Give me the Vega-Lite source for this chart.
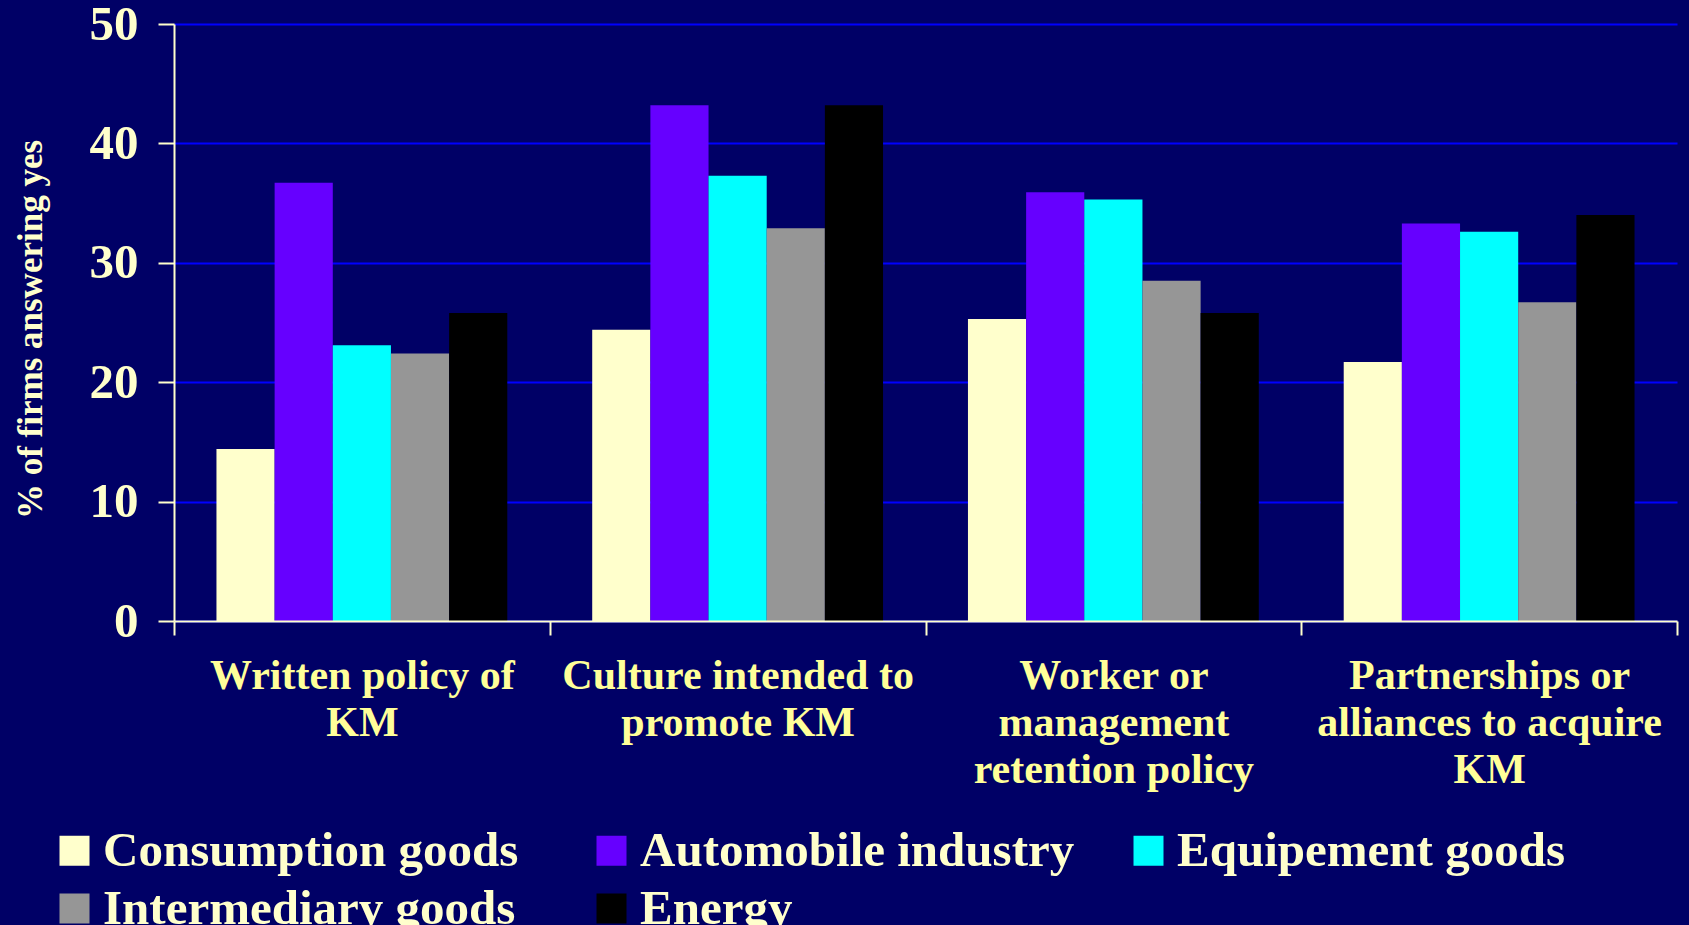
{
  "$schema": "https://vega.github.io/schema/vega-lite/v6.json",
  "width": 1503,
  "height": 597,
  "autosize": {"type": "none"},
  "padding": {"left": 174, "top": 24, "right": 12, "bottom": 304},
  "background": "#000066",
  "config": {
    "view": {"stroke": null},
    "font": "Liberation Serif"
  },
  "data": {
    "values": [
      {"practice": "Written policy of KM", "sector": "Consumption goods", "pct": 14.4},
      {"practice": "Written policy of KM", "sector": "Automobile industry", "pct": 36.7},
      {"practice": "Written policy of KM", "sector": "Equipement goods", "pct": 23.1},
      {"practice": "Written policy of KM", "sector": "Intermediary goods", "pct": 22.4},
      {"practice": "Written policy of KM", "sector": "Energy", "pct": 25.8},
      {"practice": "Culture intended to promote KM", "sector": "Consumption goods", "pct": 24.4},
      {"practice": "Culture intended to promote KM", "sector": "Automobile industry", "pct": 43.2},
      {"practice": "Culture intended to promote KM", "sector": "Equipement goods", "pct": 37.3},
      {"practice": "Culture intended to promote KM", "sector": "Intermediary goods", "pct": 32.9},
      {"practice": "Culture intended to promote KM", "sector": "Energy", "pct": 43.2},
      {"practice": "Worker or management retention policy", "sector": "Consumption goods", "pct": 25.3},
      {"practice": "Worker or management retention policy", "sector": "Automobile industry", "pct": 35.9},
      {"practice": "Worker or management retention policy", "sector": "Equipement goods", "pct": 35.3},
      {"practice": "Worker or management retention policy", "sector": "Intermediary goods", "pct": 28.5},
      {"practice": "Worker or management retention policy", "sector": "Energy", "pct": 25.8},
      {"practice": "Partnerships or alliances to acquire KM", "sector": "Consumption goods", "pct": 21.7},
      {"practice": "Partnerships or alliances to acquire KM", "sector": "Automobile industry", "pct": 33.3},
      {"practice": "Partnerships or alliances to acquire KM", "sector": "Equipement goods", "pct": 32.6},
      {"practice": "Partnerships or alliances to acquire KM", "sector": "Intermediary goods", "pct": 26.7},
      {"practice": "Partnerships or alliances to acquire KM", "sector": "Energy", "pct": 34.0}
    ]
  },
  "mark": {"type": "bar"},
  "encoding": {
    "x": {
      "field": "practice",
      "type": "nominal",
      "sort": ["Written policy of KM", "Culture intended to promote KM", "Worker or management retention policy", "Partnerships or alliances to acquire KM"],
      "scale": {"paddingInner": 0, "paddingOuter": 0},
      "axis": {
        "title": null,
        "zindex": 1,
        "grid": false,
        "tickBand": "extent",
        "labelAngle": 0,
        "labelFont": "Liberation Serif",
        "labelFontWeight": "bold",
        "labelFontSize": 42,
        "labelLineHeight": 47,
        "labelColor": "#FFFF99",
        "labelPadding": 20,
        "labelLimit": 0,
        "labelBaseline": "top",
        "labelExpr": "datum.extra ? '' : datum.value == 'Written policy of KM' ? ['Written policy of', 'KM'] : datum.value == 'Culture intended to promote KM' ? ['Culture intended to', 'promote KM'] : datum.value == 'Worker or management retention policy' ? ['Worker or', 'management', 'retention policy'] : ['Partnerships or', 'alliances to acquire', 'KM']",
        "tickSize": 14,
        "tickWidth": 2,
        "tickColor": "#FFFFCC",
        "domainColor": "#FFFFCC",
        "domainWidth": 2
      }
    },
    "xOffset": {
      "field": "sector",
      "type": "nominal",
      "sort": ["Consumption goods", "Automobile industry", "Equipement goods", "Intermediary goods", "Energy"],
      "scale": {"paddingInner": 0, "paddingOuter": 0.73}
    },
    "y": {
      "field": "pct",
      "type": "quantitative",
      "scale": {"domain": [0, 50], "nice": false},
      "axis": {
        "values": [0, 10, 20, 30, 40, 50],
        "grid": true,
        "gridColor": "#0000FF",
        "gridWidth": 2,
        "zindex": 0,
        "labelFont": "Liberation Serif",
        "labelFontWeight": "bold",
        "labelFontSize": 49,
        "labelColor": "#FFFFCC",
        "labelPadding": 20,
        "tickSize": 16,
        "tickWidth": 2,
        "tickColor": "#FFFFCC",
        "domainColor": "#FFFFCC",
        "domainWidth": 2,
        "title": "% of firms answering yes",
        "titleFont": "Liberation Serif",
        "titleFontWeight": "bold",
        "titleFontSize": 35,
        "titleColor": "#FFFFCC",
        "titleAngle": -90,
        "titleAlign": "center",
        "titleBaseline": "middle",
        "titleX": -144,
        "titleY": 305
      }
    },
    "color": {
      "field": "sector",
      "type": "nominal",
      "sort": ["Consumption goods", "Automobile industry", "Equipement goods", "Intermediary goods", "Energy"],
      "scale": {
        "domain": ["Consumption goods", "Automobile industry", "Equipement goods", "Intermediary goods", "Energy"],
        "range": ["#FFFFCC", "#6600FF", "#00FFFF", "#969696", "#000000"]
      },
      "legend": {
        "title": null,
        "orient": "none",
        "direction": "horizontal",
        "legendX": -124,
        "legendY": 802,
        "columns": 3,
        "gridAlign": "all",
        "columnPadding": 49,
        "rowPadding": 8,
        "symbolType": "square",
        "symbolSize": 900,
        "symbolStrokeWidth": 0,
        "symbolOpacity": 1,
        "labelFont": "Liberation Serif",
        "labelFontWeight": "bold",
        "labelFontSize": 49,
        "labelColor": "#FFFFCC",
        "labelOffset": 4,
        "labelLimit": 0
      }
    }
  }
}
